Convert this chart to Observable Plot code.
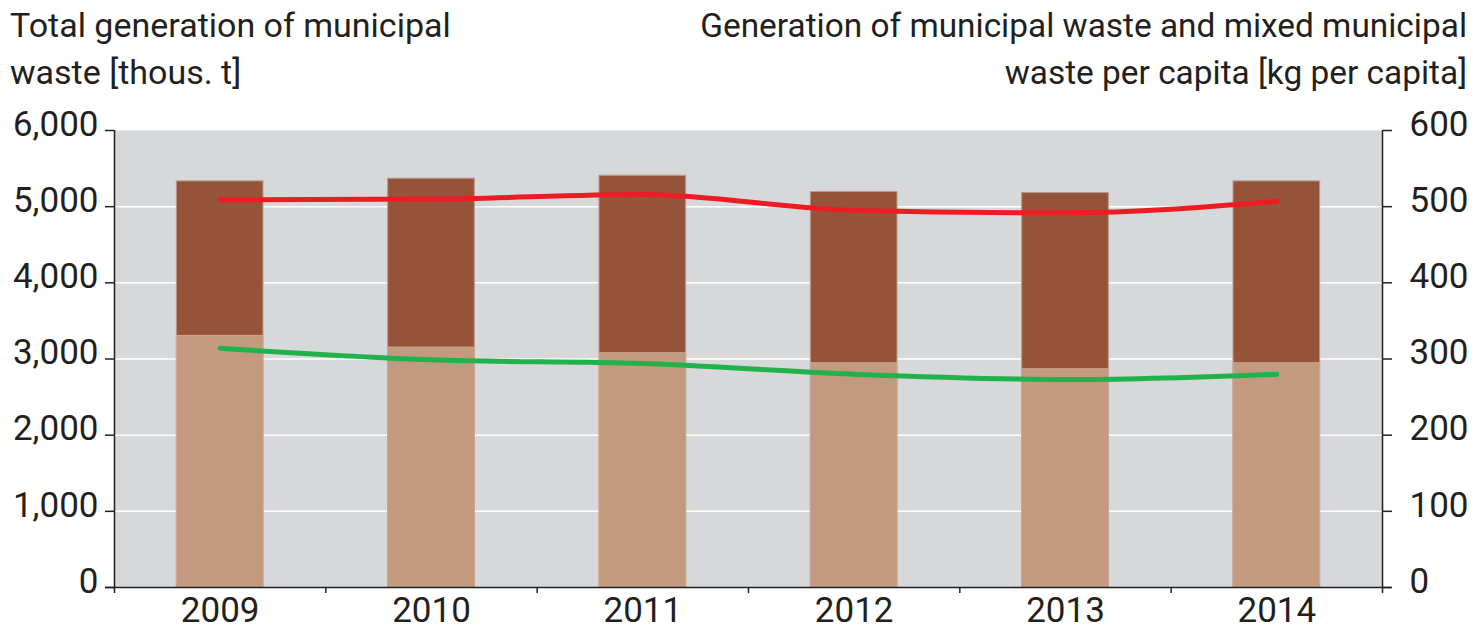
<!DOCTYPE html>
<html>
<head>
<meta charset="utf-8">
<script src="https://cdn.jsdelivr.net/npm/d3@7"></script>
<script src="https://cdn.jsdelivr.net/npm/@observablehq/plot@0.6"></script>
<style>
  html, body { margin: 0; padding: 0; background: #fff; }
  #wrap { width: 1477px; font-family: Roboto, "Open Sans", sans-serif; color: #231f20; }
  #header { position: relative; height: 114px; }
  .ttl { position: absolute; top: 2px; font-size: 34px; line-height: 47px; white-space: nowrap; }
  #ttl-left { left: 10px; text-align: left; }
  #ttl-right { right: 10px; text-align: right; font-size: 33.4px; }
  #chart svg { display: block; }
</style>
</head>
<body>
<div id="wrap">
  <div id="header">
    <div class="ttl" id="ttl-left">Total generation of municipal<br>waste [thous. t]</div>
    <div class="ttl" id="ttl-right">Generation of municipal waste and mixed municipal<br>waste per capita [kg per capita]</div>
  </div>
  <div id="chart"></div>
</div>
<script>
// ---- data ----
const years = [2009, 2010, 2011, 2012, 2013, 2014];
const totalWaste = [5332, 5367, 5406, 5192, 5179, 5332];      // thous. t
const mixedWaste = [3303, 3150, 3076, 2944, 2865, 2944];      // thous. t
const totalPerCapita = [509, 510, 516, 495, 492, 507];         // kg per capita
const mixedPerCapita = [314, 299, 294, 280, 273, 280];         // kg per capita
const leftTicks = [0, 1000, 2000, 3000, 4000, 5000, 6000];
const rightTicks = [0, 100, 200, 300, 400, 500, 600];

// ---- derived tables ----
const ratio = leftTicks[leftTicks.length - 1] / rightTicks[rightTicks.length - 1];
const rows = years.map((y, i) => ({
  year: y,
  total: totalWaste[i],
  mixed: mixedWaste[i],
  totalPC: totalPerCapita[i],
  mixedPC: mixedPerCapita[i]
}));
const bounds = d3.range(years.length + 1).map(i => years[0] - 0.5 + i);
const half = 0.205;
const ink = "#231f20";
const fs = 35;

const chart = Plot.plot({
  width: 1477,
  height: 520,
  marginTop: 16,
  marginBottom: 47,
  marginLeft: 114,
  marginRight: 95,
  style: { fontFamily: "Roboto, 'Open Sans', sans-serif", color: ink, background: "white", overflow: "visible" },
  x: { domain: [bounds[0], bounds[bounds.length - 1]] },
  y: { domain: [leftTicks[0], leftTicks[leftTicks.length - 1]] },
  marks: [
    Plot.frame({ fill: "#d7d8da", stroke: null }),
    Plot.gridY(leftTicks.slice(1, -1), { stroke: "white", strokeOpacity: 1, strokeWidth: 1.5 }),
    Plot.rectY(rows, { x1: d => d.year - half, x2: d => d.year + half, y1: 0, y2: "total", fill: "#95533a", stroke: "#b8998b", strokeWidth: 1 }),
    Plot.rectY(rows, { x1: d => d.year - half, x2: d => d.year + half, y1: 0, y2: "mixed", fill: "#c39a80", stroke: "#caa996", strokeWidth: 1 }),
    Plot.line(rows, { x: "year", y: d => d.totalPC * ratio, stroke: "#ed1c24", strokeWidth: 5, curve: "monotone-x", strokeLinecap: "round" }),
    Plot.line(rows, { x: "year", y: d => d.mixedPC * ratio, stroke: "#22b24c", strokeWidth: 5, curve: "monotone-x", strokeLinecap: "round" }),
    Plot.ruleX([bounds[0], bounds[bounds.length - 1]], { stroke: ink, strokeWidth: 1.5 }),
    Plot.ruleY([0], { stroke: ink, strokeWidth: 1.5, insetLeft: -9, insetRight: -9 }),
    // left axis: tick marks, then labels nudged upward
    Plot.axisY({ anchor: "left", ticks: leftTicks, tickFormat: () => "", tickSize: 9, label: null, stroke: ink, strokeWidth: 1.5 }),
    Plot.axisY({ anchor: "left", ticks: leftTicks, tickFormat: d3.format(","), tickSize: 0, tickPadding: 16, fontSize: fs, label: null, dy: -6 }),
    // right axis
    Plot.axisY({ anchor: "right", ticks: rightTicks.map(v => v * ratio), tickFormat: () => "", tickSize: 9, label: null, stroke: ink, strokeWidth: 1.5 }),
    Plot.axisY({ anchor: "right", ticks: rightTicks.map(v => v * ratio), tickFormat: d => String(d / ratio), tickSize: 0, tickPadding: 27, fontSize: fs, label: null, dy: -6 }),
    // x axis
    Plot.axisX({ ticks: bounds, tickSize: 6, tickFormat: () => "", label: null, stroke: ink, strokeWidth: 1.5 }),
    Plot.axisX({ ticks: years, tickSize: 0, tickPadding: 10, tickFormat: d => String(d), fontSize: fs, label: null })
  ]
});
document.getElementById("chart").appendChild(chart);
</script>
</body>
</html>
